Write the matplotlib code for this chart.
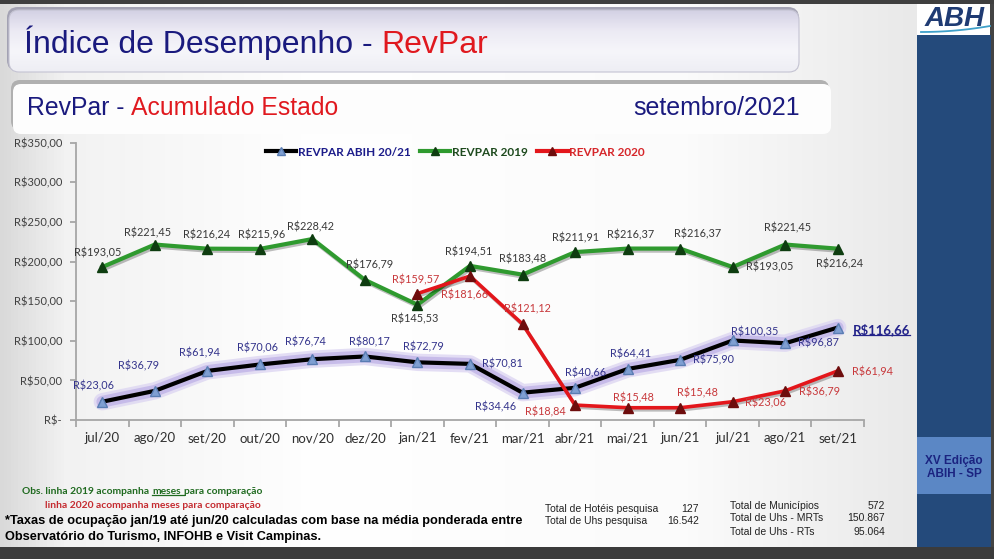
import numpy as np
import matplotlib
matplotlib.use('Agg')
import matplotlib.pyplot as plt
from matplotlib import patheffects as pe
from matplotlib.patches import FancyBboxPatch, Rectangle
from matplotlib.colors import LinearSegmentedColormap
from matplotlib.lines import Line2D
from matplotlib.font_manager import fontManager

# ---------- dados ----------
meses = ['jul/20', 'ago/20', 'set/20', 'out/20', 'nov/20', 'dez/20', 'jan/21',
         'fev/21', 'mar/21', 'abr/21', 'mai/21', 'jun/21', 'jul/21', 'ago/21', 'set/21']
revpar_abih = [23.06, 36.79, 61.94, 70.06, 76.74, 80.17, 72.79, 70.81,
               34.46, 40.66, 64.41, 75.90, 100.35, 96.87, 116.66]
revpar_2019 = [193.05, 221.45, 216.24, 215.96, 228.42, 176.79, 145.53, 194.51,
               183.48, 211.91, 216.37, 216.37, 193.05, 221.45, 216.24]
inicio_2020 = 6  # serie 2020 comeca em jan/21
revpar_2020 = [159.57, 181.66, 121.12, 18.84, 15.48, 15.48, 23.06, 36.79, 61.94]
y_ticks = [0, 50, 100, 150, 200, 250, 300, 350]

# deslocamento dos rotulos (pixels, y para baixo)
off_abih = [(-9, -16), (-16, -25), (-8, -18), (-2, -17), (-7, -17), (4, -15), (6, -15),
            (32, 0), (-27, 14), (10, -15), (3, -15), (33, 0), (22, -9), (33, 0), None]
off_2019 = [(-5, -14), (-7, -12), (-1, -14), (2, -14), (-2, -12), (5, -15), (-3, 14),
            (-1, -14), (0, -16), (0, -14), (3, -14), (17, -15), (37, 0), (2, -17), (2, 15)]
off_2020 = [(-2, -14), (-5, 19), (5, -15), (-30, 7), (6, -10), (17, -15), (33, 1), (34, 1), (35, 1)]

names = {f.name for f in fontManager.ttflist}
NARROW = 'Liberation Sans Narrow' if 'Liberation Sans Narrow' in names else 'Liberation Sans'
ARIAL = 'Liberation Sans'
CALIBRI = 'Lato'

NAVY = '#1a1a7e'
RED = '#e0191f'


def brl(v):
    if v == 0:
        return 'R$-'
    return 'R$' + ('%.2f' % v).replace('.', ',')


fig = plt.figure(figsize=(9.95, 5.59), dpi=100)

# ---------- fundo (coordenadas em pixels) ----------
bg = fig.add_axes([0, 0, 1, 1])
bg.set_xlim(0, 995)
bg.set_ylim(559, 0)
bg.axis('off')

cm_bg = LinearSegmentedColormap.from_list('bg', [(0, '#d9d9d9'), (0.07, '#f2f2f2'),
                                                  (0.35, '#ffffff'), (0.75, '#fbfbfb'),
                                                  (1, '#e9e9e9')])
bg.imshow(np.linspace(0, 1, 256).reshape(1, -1), cmap=cm_bg, extent=(0, 917, 559, 0),
          aspect='auto', zorder=0)

# caixa do titulo
bg.add_patch(FancyBboxPatch((7, 7), 792, 64, boxstyle='round,pad=0,rounding_size=11',
                            fc='#a3a2b3', ec='none', zorder=1))
box = FancyBboxPatch((9, 10), 790, 62, boxstyle='round,pad=0,rounding_size=10',
                     fc='none', ec='#c4c3d2', lw=0.8, zorder=3)
bg.add_patch(box)
cm_box = LinearSegmentedColormap.from_list('bx', ['#d3d1e4', '#eceaf4', '#f6f6fa', '#eeeef4'])
im = bg.imshow(np.linspace(0, 1, 100).reshape(-1, 1), cmap=cm_box, extent=(9, 799, 72, 10),
               aspect='auto', zorder=2)
im.set_clip_path(box)

# caixa do subtitulo
bg.add_patch(FancyBboxPatch((11, 80), 818, 50, boxstyle='round,pad=0,rounding_size=9',
                            fc='#b0b0b0', ec='none', zorder=1))
bg.add_patch(FancyBboxPatch((13, 84), 818, 50, boxstyle='round,pad=0,rounding_size=8',
                            fc='#fdfdfd', ec='none', zorder=2))

# faixas escuras e painel lateral
bg.add_patch(Rectangle((0, 0), 995, 4, fc='#3f3f3f', ec='none', zorder=5))
bg.add_patch(Rectangle((0, 547), 995, 12, fc='#3b3b3b', ec='none', zorder=5))
bg.add_patch(Rectangle((917, 0), 78, 559, fc='#444444', ec='none', zorder=4))
bg.add_patch(Rectangle((917, 4), 73, 31, fc='#ffffff', ec='none', zorder=5))
bg.add_patch(Rectangle((917, 35), 74, 512, fc='#244a7b', ec='none', zorder=5))
bg.add_patch(Rectangle((917, 437), 74, 57, fc='#5b87c5', ec='none', zorder=6))
bg.text(955, 19, 'ABH', ha='center', va='center', fontsize=20, fontweight='bold',
        fontstyle='italic', color='#1f3b73', family=ARIAL, zorder=7)
sx = np.linspace(921, 990, 40)
bg.plot(sx, 32 - 6 * ((sx - 921) / 69) ** 2, color='#3fa0c9', lw=1.3, zorder=7)
bg.text(954, 461, 'XV Edição', ha='center', va='center', fontsize=8.5, fontweight='bold',
        color='#1b2380', family=NARROW, zorder=7)
bg.text(954, 474, 'ABIH - SP', ha='center', va='center', fontsize=8.5, fontweight='bold',
        color='#1b2380', family=NARROW, zorder=7)

# titulos
t1 = bg.text(24, 60, 'Índice de Desempenho - ', fontsize=23, color=NAVY, family=ARIAL,
             va='bottom', zorder=8)
bg.annotate('RevPar', xy=(1, 0), xycoords=t1, va='bottom', ha='left', fontsize=23,
            color=RED, family=ARIAL, zorder=8)
t2 = bg.text(27, 120, 'RevPar - ', fontsize=17.8, color=NAVY, family=ARIAL, va='bottom', zorder=8)
bg.annotate('Acumulado Estado', xy=(1, 0), xycoords=t2, va='bottom', ha='left', fontsize=17.8,
            color=RED, family=ARIAL, zorder=8)
bg.text(800, 120, 'setembro/2021', fontsize=18, color=NAVY, family=ARIAL, va='bottom',
        ha='right', zorder=8)

# ---------- grafico ----------
ax = fig.add_axes([76 / 995, 1 - 420 / 559, 788 / 995, 277.3 / 559])
ax.patch.set_alpha(0)
x = np.arange(len(meses))
x20 = x[inicio_2020:]

glow = [pe.Stroke(linewidth=12.5, foreground='#ddd6f2', alpha=0.8),
        pe.Stroke(linewidth=8.5, foreground='#c2b6e8', alpha=0.85),
        pe.Normal()]
ax.plot(x, revpar_abih, color='black', lw=3, zorder=2, path_effects=glow, solid_capstyle='round')
ax.plot(x, revpar_abih, ls='none', marker='^', ms=7, mfc='#7f9fd2', mec='#5a7db3', zorder=2.5)

shadow = [pe.SimpleLineShadow(offset=(1, -1.5), alpha=0.25), pe.Normal()]
ax.plot(x, revpar_2019, color='#2f9a2f', lw=3, zorder=3, path_effects=shadow)
ax.plot(x, revpar_2019, ls='none', marker='^', ms=7, mfc='#0e3d10', mec='#0e3d10', zorder=3.5)
ax.plot(x20, revpar_2020, color='#e3161b', lw=2.6, zorder=4, path_effects=shadow)
ax.plot(x20, revpar_2020, ls='none', marker='^', ms=7, mfc='#6e0d0d', mec='#6e0d0d', zorder=4.5)


def rotulos(xs, vals, offs, cor):
    for xi, v, o in zip(xs, vals, offs):
        if o is None:
            continue
        ax.annotate(brl(v), (xi, v), xytext=(o[0], -o[1]), textcoords='offset pixels',
                    ha='center', va='center', fontsize=7.8, color=cor, family=CALIBRI, zorder=6)


rotulos(x, revpar_abih, off_abih, '#34348c')
rotulos(x, revpar_2019, off_2019, '#383838')
rotulos(x20, revpar_2020, off_2020, '#c8383b')
destaque = ax.annotate(brl(revpar_abih[-1]), (x[-1], revpar_abih[-1]), xytext=(15, -2),
                       textcoords='offset pixels', ha='left', va='center', fontsize=9.5,
                       fontweight='bold', color='#23238a', family=CALIBRI, zorder=6)

ax.set_xlim(-0.5, len(meses) - 0.5)
ax.set_ylim(0, 350)
ax.set_yticks(y_ticks)
ax.set_yticklabels([brl(v) for v in y_ticks], family=CALIBRI, fontsize=8, color='#404040')
ax.set_xticks(x)
ax.set_xticklabels(meses, family=CALIBRI, fontsize=9.5, color='#303030')
ax.set_xticks(np.arange(-0.5, len(meses)), minor=True)
ax.tick_params(axis='x', which='major', length=0, pad=9)
ax.tick_params(axis='x', which='minor', length=5, color='#a0a0a0', width=1.2)
ax.tick_params(axis='y', length=4, color='#a0a0a0', width=1.2, pad=6)
for s in ['top', 'right']:
    ax.spines[s].set_visible(False)
for s in ['left', 'bottom']:
    ax.spines[s].set_color('#a6a6a6')
    ax.spines[s].set_linewidth(1.3)

handles = [Line2D([], [], color='black', lw=3, marker='^', ms=6, mfc='#7f9fd2', mec='#5a7db3'),
           Line2D([], [], color='#2f9a2f', lw=3, marker='^', ms=6, mfc='#0e3d10', mec='#0e3d10'),
           Line2D([], [], color='#e3161b', lw=3, marker='^', ms=6, mfc='#6e0d0d', mec='#6e0d0d')]
leg = ax.legend(handles, ['REVPAR ABIH 20/21', 'REVPAR 2019', 'REVPAR 2020'], ncol=3,
                loc='center', bbox_to_anchor=(0.481, 0.966), frameon=False,
                prop={'family': CALIBRI, 'weight': 'bold', 'size': 8.5},
                handlelength=2.6, handletextpad=0.1, columnspacing=0.8)
for txt, c in zip(leg.get_texts(), ['#1c1c8a', '#1e4a1e', '#d6262a']):
    txt.set_color(c)

# ---------- notas de rodape ----------
n1 = bg.text(22, 496, 'Obs. linha 2019 acompanha', fontsize=7.4, color='#1f6a1f',
             family=CALIBRI, fontweight='bold', va='bottom', zorder=8)
n2 = bg.annotate('meses', xy=(1, 0), xycoords=n1, xytext=(3, 0), textcoords='offset pixels',
                 va='bottom', fontsize=7.4, color='#1f6a1f', family=CALIBRI, fontweight='bold',
                 zorder=8)
bg.annotate('para comparação', xy=(1, 0), xycoords=n2, xytext=(3, 0), textcoords='offset pixels',
            va='bottom', fontsize=7.4, color='#1f6a1f', family=CALIBRI, fontweight='bold', zorder=8)
bg.text(45, 510, 'linha 2020 acompanha meses para comparação', fontsize=7.4, color='#c42a2f',
        family=CALIBRI, fontweight='bold', va='bottom', zorder=8)
bg.text(5, 527, '*Taxas de ocupação jan/19 até jun/20 calculadas com base na média ponderada entre',
        fontsize=9.2, fontweight='bold', color='black', family=NARROW, va='bottom', zorder=8)
bg.text(5, 543, 'Observatório do Turismo, INFOHB e Visit Campinas.',
        fontsize=9.2, fontweight='bold', color='black', family=NARROW, va='bottom', zorder=8)

tot_esq = [('Total de Hotéis pesquisa', '127', 514), ('Total de Uhs pesquisa', '16.542', 526)]
tot_dir = [('Total de Municípios', '572', 511), ('Total de Uhs - MRTs', '150.867', 523),
           ('Total de Uhs - RTs', '95.064', 537)]
for lab, val, yy in tot_esq:
    bg.text(545, yy, lab, fontsize=7.5, color='#222222', family=ARIAL, va='bottom', zorder=8)
    bg.text(699, yy, val, fontsize=7.5, color='#222222', family=ARIAL, va='bottom', ha='right', zorder=8)
for lab, val, yy in tot_dir:
    bg.text(730, yy, lab, fontsize=7.5, color='#222222', family=ARIAL, va='bottom', zorder=8)
    bg.text(885, yy, val, fontsize=7.5, color='#222222', family=ARIAL, va='bottom', ha='right', zorder=8)

# sublinhados
fig.canvas.draw()
r = fig.canvas.get_renderer()
inv = bg.transData.inverted()
for art, cor, extra in [(n2, '#1f6a1f', 3), (destaque, '#23238a', 0)]:
    bb = art.get_window_extent(r)
    (x0, y0), (x1, _) = inv.transform([(bb.x0, bb.y0), (bb.x1, bb.y0)])
    bg.plot([x0, x1 + extra], [y0 - 1.5, y0 - 1.5], color=cor, lw=0.9, zorder=8)

fig.savefig('out.png', dpi=100)
